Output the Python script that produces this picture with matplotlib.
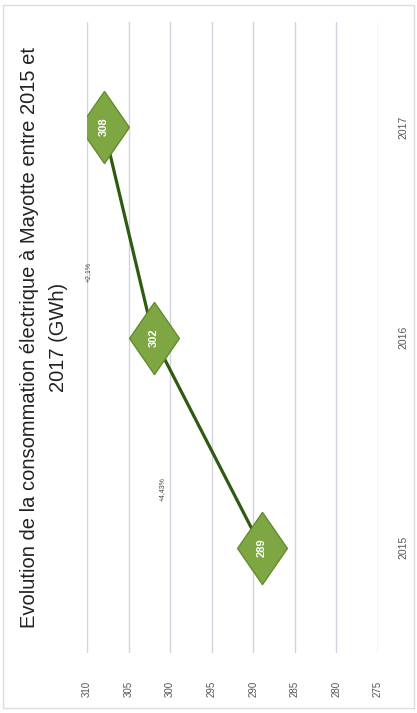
import numpy as np
import matplotlib.pyplot as plt
from matplotlib.patches import Rectangle

# data (chart is drawn turned a quarter turn, as in the scan)
years = ['2015', '2016', '2017']
conso = [289, 302, 308]
value_ticks = [310, 305, 300, 295, 290, 285, 280, 275]
growth_labels = ['+4,43%', '+2,1%']
growth_pos = [(300.9, 0.28), (309.9, 1.31)]  # (value, category) where the small notes sit
title_lines = ['Evolution de la consommation électrique à Mayotte entre 2015 et',
               '2017 (GWh)']

plt.rcParams['font.family'] = ['Liberation Sans', 'DejaVu Sans']

fig = plt.figure(figsize=(4.17, 7.13), dpi=100)
fig.patch.set_facecolor('white')
fig.patches.append(Rectangle((0.006, 0.007), 0.988, 0.986, transform=fig.transFigure,
                             fill=False, edgecolor='#dcdcdc', linewidth=1.0))

ax = fig.add_axes([87 / 417, 60 / 713, 291 / 417, 631 / 713])
ax.set_facecolor('white')

pos = np.arange(len(years))

# diamond shaped data labels, taller than wide
diamond = [(0, 1), (0.69, 0), (0, -1), (-0.69, 0), (0, 1)]
ax.plot(conso, pos, color='#2f5a12', linewidth=2.3, zorder=3)
ax.plot(conso, pos, linestyle='none', marker=diamond, markersize=52,
        markerfacecolor='#7ea744', markeredgecolor='#628d2e', markeredgewidth=1.0, zorder=4)
for v, p in zip(conso, pos):
    ax.text(v, p, str(v), rotation=90, ha='center', va='center', color='white',
            fontsize=8, fontweight='bold', zorder=5)

for txt, (v, p) in zip(growth_labels, growth_pos):
    ax.text(v, p, txt, rotation=90, ha='center', va='center', fontsize=5, color='#444444')

ax.set_xlim(310, 275)
ax.set_ylim(-0.5, len(years) - 0.5)
ax.set_xticks(value_ticks)
ax.set_xticklabels([str(t) for t in value_ticks], rotation=90, fontsize=7, color='#555555')
ax.set_yticks(pos)
ax.set_yticklabels(years, rotation=90, fontsize=7.5, color='#555555', va='center')
ax.yaxis.tick_right()
ax.tick_params(axis='x', length=0, pad=20)
ax.tick_params(axis='y', length=0, pad=15)
ax.grid(axis='x', color='#cfd4e0', linewidth=1.0)
ax.set_axisbelow(True)
for s in ax.spines.values():
    s.set_visible(False)

fig.text(30 / 417, 1 - 337 / 713, title_lines[0], rotation=90, ha='center', va='center',
         fontsize=14.5, color='#222222')
fig.text(58 / 417, 1 - 337 / 713, title_lines[1], rotation=90, ha='center', va='center',
         fontsize=14.5, color='#222222')

fig.savefig('out.png', dpi=100)
